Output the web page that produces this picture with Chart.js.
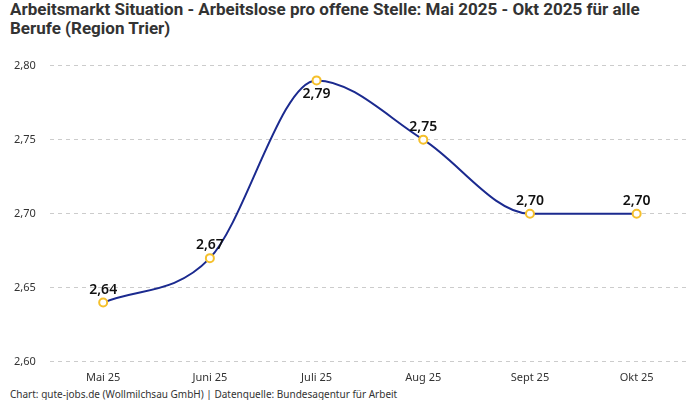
<!DOCTYPE html>
<html>
<head>
<meta charset="utf-8">
<script src="https://cdn.jsdelivr.net/npm/chart.js@4/dist/chart.umd.min.js"></script>
<style>
  body { margin: 0; background: #fff; }
  #wrap { width: 700px; height: 400px; position: relative; }
  h1 { position: absolute; left: 10px; top: 0; margin: 0; width: 680px;
       font: bold 17px 'Liberation Sans Narrow', 'Roboto', sans-serif; line-height: 19px; color: #333; }
  #foot { position: absolute; left: 10px; top: 387px; font: 10px 'Noto Sans', sans-serif; color: #333; }
  #box { position: absolute; left: 0; top: 45px; width: 700px; height: 340px; }
</style>
</head>
<body>
<div id="wrap">
  <h1>Arbeitsmarkt Situation - Arbeitslose pro offene Stelle: Mai 2025 - Okt 2025 für alle Berufe (Region Trier)</h1>
  <div id="box"><canvas id="myChart"></canvas></div>
  <div id="foot">Chart: gute-jobs.de (Wollmilchsau GmbH) | Datenquelle: Bundesagentur für Arbeit</div>
</div>
<script>
const months = ['Mai 25', 'Juni 25', 'Juli 25', 'Aug 25', 'Sept 25', 'Okt 25'];
const ratio = [2.64, 2.67, 2.79, 2.75, 2.70, 2.70];
const labelBelow = [false, false, true, false, false, false];

const fmt = (v) => v.toFixed(2).replace('.', ',');

// draws the value over each point
const valueLabels = {
  id: 'valueLabels',
  afterDatasetsDraw(chart) {
    const ctx = chart.ctx;
    const meta = chart.getDatasetMeta(0);
    ctx.save();
    ctx.font = '600 14px "Noto Sans", sans-serif';
    ctx.fillStyle = '#111';
    ctx.textAlign = 'center';
    meta.data.forEach((pt, i) => {
      if (labelBelow[i]) {
        ctx.textBaseline = 'top';
        ctx.fillText(fmt(ratio[i]), pt.x, pt.y + 7);
      } else {
        ctx.textBaseline = 'bottom';
        ctx.fillText(fmt(ratio[i]), pt.x, pt.y - 6);
      }
    });
    ctx.restore();
  }
};

var ctx = document.getElementById('myChart').getContext('2d');
let myChart = new Chart(ctx, {
  type: 'line',
  data: {
    labels: months,
    datasets: [
      {
        label: 'Arbeitslose pro offene Stelle',
        data: ratio,
        borderColor: '#1b2a8f',
        borderWidth: 2,
        cubicInterpolationMode: 'monotone',
        pointRadius: 4,
        pointBorderWidth: 2,
        pointBackgroundColor: '#fff',
        pointBorderColor: '#f5c02c',
        fill: false,
      },
    ],
  },
  options: {
    responsive: true,
    maintainAspectRatio: false,
    animation: false,
    layout: { padding: { left: 0, right: 10, top: 0, bottom: 0 } },
    plugins: { legend: { display: false }, tooltip: { enabled: false } },
    scales: {
      x: {
        offset: true,
        grid: { display: false },
        border: { display: false },
        ticks: { color: '#333', font: { size: 11, family: 'Noto Sans' }, padding: 1 },
      },
      y: {
        min: 2.6,
        max: 2.8,
        ticks: { stepSize: 0.05, color: '#333', font: { size: 11, family: 'Noto Sans' }, padding: 14,
                 callback: (v) => fmt(v) },
        grid: { color: '#ccc', drawTicks: false },
        border: { display: false, dash: [4, 4] },
      },
    },
  },
  plugins: [valueLabels],
});
</script>
</body>
</html>
